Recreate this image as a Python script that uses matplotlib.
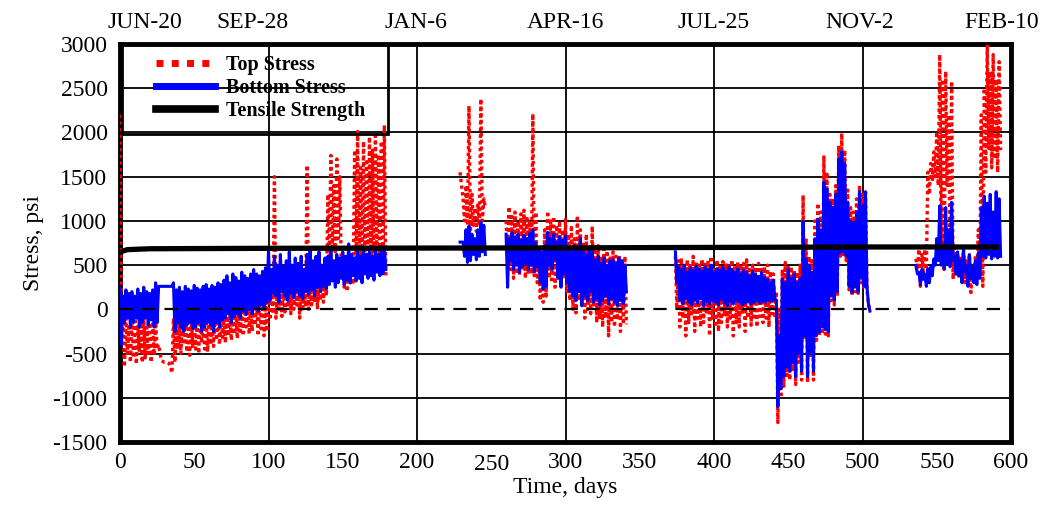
import numpy as np
import matplotlib
matplotlib.use("Agg")
import matplotlib.pyplot as plt
from matplotlib.lines import Line2D
from matplotlib.patches import Rectangle
from matplotlib.transforms import ScaledTranslation, blended_transform_factory

plt.rcParams['font.family'] = ['Liberation Serif', 'DejaVu Serif']
plt.rcParams['axes.unicode_minus'] = False

# each segment: start day, then daily max / min pairs every 2 days
seg_start = [0, 229, 260, 374, 536]

# ---- bottom stress (blue)
bot_hi = [
    [250, 150, 220, 180, 200, 150, 230, 180, 250, 200, 180, 220, 300,
     260, 260, 260, 260, 260,
     300, 220, 250, 200, 260, 230, 210, 270, 240, 220, 260, 280, 230, 270, 250, 300, 280,
     330, 380, 300, 400, 360, 320, 420, 380, 350, 400, 450, 400, 380, 430, 470,
     680, 450, 600, 500, 620, 480, 550, 650, 500, 580, 520, 600, 450, 620, 680, 550, 600, 650, 500, 580,
     600, 700, 550, 620, 580, 650, 600, 740, 620, 580, 650, 600, 700, 620, 650, 600, 680, 620, 650, 700],
    [760, 760, 900, 940, 850, 800, 900, 990, 950],
    [850, 800, 870, 820, 850, 780, 840, 800, 860, 900, 750, 700, 650, 720, 870, 800, 850, 760, 820, 780,
     830, 700, 650, 720, 680, 800, 650, 620, 700, 650, 560, 600, 520, 580, 500, 550, 560, 520, 580, 550, 500],
    [650, 480, 450, 500, 420, 470, 440, 490, 460, 430, 480, 450, 500, 420, 460, 440, 470, 430, 480, 450,
     420, 460, 400, 440, 420, 380, 430, 400, 370, 420, 360, 340, 300, 330,
     100, -300, 340, 300, 450, 350, 400, 300, 350, 990, 570, 500, 420, 800, 1020, 900, 1440, 1360, 1210, 1150,
     1300, 1700, 1780, 1650, 1210, 1000, 980, 1100, 1330, 1170, 1330, 60],
    [490, 420, 450, 400, 460, 480, 570, 800, 1170, 700, 1150, 900, 1210, 600, 650, 550, 680, 500, 620, 480,
     550, 640, 1150, 1280, 1200, 1300, 1100, 1330, 1250],
]
bot_lo = [
    [-400, -150, -100, -200, -150, -100, -200, -150, -100, -180, -120, -200, -150,
     260, 260, 260, 260, 260,
     -250, -150, -200, -250, -180, -150, -220, -200, -150, -250, -200, -150, -180, -250, -150, -200, -120,
     -100, -50, -150, -80, -50, -100, -20, -60, 0, -50, 30, -20, 50, 20, 80,
     100, 180, 150, 80, 200, 150, 100, 180, 130, 200, 150, 120, 200, 170, 220, 150, 250, 200, 260, 230,
     280, 320, 250, 300, 350, 280, 330, 300, 380, 320, 350, 300, 400, 350, 380, 330, 420, 380, 400, 450],
    [760, 600, 530, 550, 620, 560, 600, 650, 620],
    [250, 550, 450, 500, 420, 480, 520, 450, 500, 420, 480, 300, 230, 260, 500, 450, 560, 350, 250, 400,
     300, 200, 150, 100, 200, 40, 150, 100, 200, 80, 120, 50, 100, 150, 60, 120, 80, 40, 100, 60, 200],
    [300, 100, 60, 120, 80, 50, 100, 70, 120, 40, 90, 60, 100, 80, 50, 110, 70, 40, 90, 60,
     100, 80, 50, 70, 90, 60, 80, 100, 70, 90, 80, 100, 90, 120,
     -1100, -900, -760, -650, -700, -600, -760, -500, -700, -300, -760, -500, -700, -300, -260, -200, -230, -260, 150, 100,
     200, 640, 650, 600, 260, 190, 250, 200, 350, 260, 260, -20],
    [400, 280, 340, 260, 300, 380, 500, 550, 500, 460, 520, 480, 550, 400, 380, 300, 420, 260, 350, 300,
     280, 350, 600, 580, 620, 570, 600, 580, 600],
]

# ---- top stress (red)
top_hi = [
    [2200,
     -150, -100, -200, -120, -100, -180, -150, -100, -200, -150, -100, -150,
     -400, -580, -600, -600, -650,
     -100, -150, -80, -120, -100, -150, -80, -100, -120, -60, -100, -80, -50, -100, -60, -40, -80,
     -30, 0, -50, 20, 0, -20, 50, 30, 0, 50, 80, 60, 100, 80, 120,
     150, 250, 1500, 200, 300, 250, 350, 300, 280, 400, 350, 300, 380, 1630, 350, 400, 380, 450, 420, 500,
     1300, 1740, 1400, 1700, 1500, 550, 500, 600, 500, 1800, 2010, 1600, 1900, 1700, 1950, 1800, 2000, 1750, 1900, 2080],
    [1550, 1250, 1400, 2300, 1300, 1150, 1200, 2380, 1250],
    [1000, 1160, 1050, 1100, 1000, 1080, 1120, 1050, 1000, 2210, 1100, 700, 600, 900, 1110, 1000, 1050, 950, 1000, 900,
     1030, 850, 950, 800, 1060, 900, 760, 850, 700, 940, 650, 720, 600, 680, 700, 580, 650, 600, 620, 560, 600],
    [600, 550, 580, 500, 560, 520, 600, 540, 500, 570, 510, 550, 600, 480, 560, 500, 540, 520, 490, 560,
     500, 540, 480, 520, 560, 450, 500, 480, 520, 450, 480, 500, 430, 400,
     200, 0, 450, 530, 500, 480, 450, 420, 500, 1290, 800, 600, 550, 1000, 1200, 1100, 1740, 1550, 1300, 1250,
     1400, 1850, 1990, 1800, 1350, 1150, 1100, 1250, 1400, 1300, 1350, 60],
    [570, 680, 620, 680, 1550, 1650, 1780, 2010, 2880, 2600, 2690, 2200, 2580, 700, 650, 600, 680, 550, 620, 500,
     600, 900, 2200, 2500, 2990, 2690, 2880, 2600, 2800],
]
top_lo = [
    [-300,
     -650, -500, -600, -550, -620, -480, -600, -550, -500, -600, -520, -450,
     -500, -590, -600, -610, -720,
     -600, -450, -500, -400, -480, -520, -420, -450, -500, -380, -450, -480, -400, -420, -350, -400, -320,
     -380, -300, -350, -280, -330, -250, -300, -200, -280, -250, -180, -300, -220, -300, -250,
     -120, -50, -100, 0, -80, -30, 20, -50, 0, 50, -100, -20, 30, 0, 50, 80, 0, 100, 80, 150,
     600, 700, 650, 800, 500, 250, 200, 300, 280, 500, 400, 600, 450, 500, 400, 550, 450, 500, 400, 350],
    [1400, 1000, 950, 900, 950, 880, 950, 1000, 1150],
    [600, 450, 350, 400, 380, 450, 350, 420, 400, 380, 300, 100, 80, 150, 350, 300, 250, 400, 280, 350,
     200, 100, 0, -40, 100, 50, -100, 0, -50, 50, -150, -110, -200, -100, -300, -150, -200, -120, -250, -170, -170],
    [0, -200, -100, -300, -150, -50, -250, -100, -200, -150, -50, -300, -100, -200, -250, -150, -80, -200, -100, -300,
     -150, -200, -50, -250, -100, -180, -120, -200, -80, -150, -100, -200, -50, -100,
     -1280, -1000, -870, -750, -800, -700, -850, -600, -800, -350, -830, -550, -800, -350, -300, -250, -280, -300, 100, 50,
     150, 600, 600, 550, 220, 150, 200, 180, 300, 220, 220, -20],
    [450, 260, 400, 450, 1300, 1450, 1500, 1400, 700, 450, 1400, 500, 340, 400, 350, 450, 300, 500, 190, 400,
     350, 450, 260, 1550, 1820, 1600, 1700, 1550, 1800],
]

# tensile strength
ts_days = [0, 2, 5, 20, 100, 300, 500, 592]
ts_vals = [640, 660, 675, 685, 690, 695, 705, 705]

x_ticks = [0, 50, 100, 150, 200, 250, 300, 350, 400, 450, 500, 550, 600]
y_ticks = [-1500, -1000, -500, 0, 500, 1000, 1500, 2000, 2500, 3000]
date_labels = ['JUN-20', 'SEP-28', 'JAN-6', 'APR-16', 'JUL-25', 'NOV-2', 'FEB-10']
date_pos = [17, 89, 199, 300, 400, 498, 594]


def build(starts, hi, lo):
    t, v = [], []
    for s, h, l in zip(starts, hi, lo):
        for i in range(len(h)):
            t += [s + 2 * i, s + 2 * i + 1]
            v += [h[i], l[i]]
        t.append(np.nan)
        v.append(np.nan)
    return np.array(t, float), np.array(v, float)


top_t, top_v = build(seg_start, top_hi, top_lo)
bot_t, bot_v = build(seg_start, bot_hi, bot_lo)

fig = plt.figure(figsize=(10.47, 5.12), dpi=100)
ax = fig.add_axes([120 / 1047, 1 - 442 / 512, 891 / 1047, 398 / 512])

ax.plot(top_t, top_v, color='#ff0000', lw=2.4, linestyle=(0, (1, 1)), zorder=3)
ax.plot(bot_t, bot_v, color='#0000ff', lw=2.2, zorder=4)
ax.plot(ts_days, ts_vals, color='k', lw=3.8, zorder=5, solid_capstyle='butt')
ax.axhline(0, color='k', lw=1.6, ls=(0, (6, 4)), zorder=6)

ax.set_xlim(0, 600)
ax.set_ylim(-1500, 3000)
ax.set_xticks(x_ticks)
ax.set_yticks(y_ticks)
ax.tick_params(length=0, labelsize=17)
ax.tick_params(axis='x', pad=7)
ax.tick_params(axis='y', pad=9)
for y in y_ticks:
    if y not in (0, -1500, 3000):
        ax.axhline(y, color='k', lw=1.3, zorder=1)
for x in [100, 200, 300, 400, 500]:
    ax.axvline(x, color='k', lw=1.3, zorder=1)
for sp in ax.spines.values():
    sp.set_linewidth(3.5)

fig.canvas.draw()
lab = ax.get_xticklabels()[5]
lab.set_transform(lab.get_transform() + ScaledTranslation(0, -0.02, fig.dpi_scale_trans))

ax.set_xlabel('Time, days', fontsize=17, labelpad=2)
ax.set_ylabel('Stress, psi', fontsize=17, labelpad=6)

tr = blended_transform_factory(ax.transData, ax.transAxes)
for lbl, p in zip(date_labels, date_pos):
    ax.text(p, 1.055, lbl, transform=tr, ha='center', va='center', fontsize=17)

# legend
ax.add_patch(Rectangle((0.002, 0.774), 0.299, 0.226, transform=ax.transAxes,
                       fill=False, edgecolor='k', lw=2, zorder=7))
handles = [
    Line2D([], [], color='#ff0000', lw=5, linestyle=(0, (1, 1.2))),
    Line2D([], [], color='#0000ff', lw=5),
    Line2D([], [], color='k', lw=5.5),
]
leg = ax.legend(handles, ['Top Stress', 'Bottom Stress', 'Tensile Strength'],
                loc='upper left', bbox_to_anchor=(0.018, 1.022), frameon=False,
                prop={'weight': 'bold', 'size': 14.5}, handlelength=2.9,
                handletextpad=0.55, labelspacing=0.15, borderpad=0.5)
leg.set_zorder(8)

fig.savefig('out.png', dpi=100)
